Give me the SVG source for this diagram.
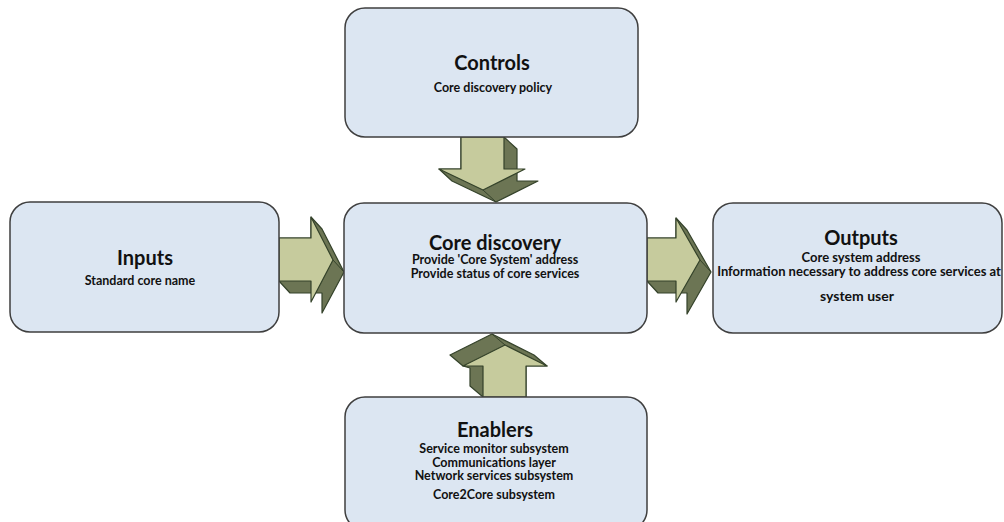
<svg xmlns="http://www.w3.org/2000/svg" width="1004" height="522" viewBox="0 0 1004 522">
  <style>
    .box { fill: #dce6f2; stroke: #3f3f3f; stroke-width: 1.5; }
    .face { fill: #c6cb9d; stroke: #34422a; stroke-width: 1.2; stroke-linejoin: round; }
    .side { fill: #6c7554; stroke: #34422a; stroke-width: 1.2; stroke-linejoin: round; }
    .crease { stroke: #34422a; stroke-width: 1; fill: none; }
    text { font-family: Lato, "Liberation Sans", sans-serif; font-weight: bold; fill: #111; text-anchor: middle; }
    .title { font-size: 20px; }
    .sub { font-size: 12.5px; }
    .sub-lg { font-size: 13px; }
  </style>
  <rect width="1004" height="522" fill="#ffffff"/>

  <!-- block arrows (3D), drawn under the boxes -->
  <g id="connectors">
    <!-- Controls -> Core discovery -->
    <g id="arrow-controls">
      <polygon class="side" points="504,137 517,149 517,181 538,181 496,202 452,181 439,169 461,169 461,137"/>
      <line class="crease" x1="483" y1="190" x2="496" y2="202"/>
      <polygon class="face" points="461,137 504,137 504,169 525,169 483,190 439,169 461,169"/>
    </g>
    <!-- Inputs -> Core discovery -->
    <g id="arrow-inputs">
      <polygon class="side" points="311,217 322,229 344,272 322,313 322,293 290,293 279,281 279,238 311,238"/>
      <line class="crease" x1="333" y1="260" x2="344" y2="272"/>
      <polygon class="face" points="279,238 311,238 311,217 333,260 311,302 311,281 279,281"/>
    </g>
    <!-- Core discovery -> Outputs -->
    <g id="arrow-outputs">
      <polygon class="side" points="676,218 687,230 711,272 687,314 687,293 658,293 647,281 647,238 676,238"/>
      <line class="crease" x1="700" y1="260" x2="711" y2="272"/>
      <polygon class="face" points="647,238 676,238 676,218 700,260 676,302 676,281 647,281"/>
    </g>
    <!-- Enablers -> Core discovery -->
    <g id="arrow-enablers">
      <polygon class="side" points="483,397 470,386 470,368 463,366 450,355 492,334 534,355 547,366 526,366 526,397"/>
      <line class="crease" x1="505" y1="345" x2="492" y2="334"/>
      <polygon class="face" points="483,397 483,366 463,366 505,345 547,366 526,366 526,397"/>
    </g>
  </g>

  <g id="controls">
    <rect class="box" x="345" y="8" width="293" height="129" rx="20" ry="20"/>
    <text class="title" x="492" y="70">Controls</text>
    <text class="sub" x="493" y="92">Core discovery policy</text>
  </g>

  <g id="inputs">
    <rect class="box" x="10" y="202" width="269" height="130" rx="20" ry="20"/>
    <text class="title" x="145" y="265">Inputs</text>
    <text class="sub" x="140" y="285">Standard core name</text>
  </g>

  <g id="core-discovery">
    <rect class="box" x="344" y="203" width="303" height="130" rx="20" ry="20"/>
    <text class="title" x="495" y="250">Core discovery</text>
    <text class="sub" x="495" y="264">Provide 'Core System' address</text>
    <text class="sub" x="495" y="278">Provide status of core services</text>
  </g>

  <g id="outputs">
    <rect class="box" x="713" y="203" width="289" height="130" rx="20" ry="20"/>
    <text class="title" x="861" y="245">Outputs</text>
    <text class="sub-lg" x="861" y="262">Core system address</text>
    <text class="sub-lg" x="859" y="276">Information necessary to address core services at</text>
    <text class="sub-lg" x="857" y="301" style="font-size:14px">system user</text>
  </g>

  <g id="enablers">
    <rect class="box" x="345" y="397" width="302" height="133" rx="20" ry="20"/>
    <text class="title" x="495" y="437">Enablers</text>
    <text class="sub" x="494" y="453">Service monitor subsystem</text>
    <text class="sub" x="494" y="467">Communications layer</text>
    <text class="sub" x="494" y="480">Network services subsystem</text>
    <text class="sub" x="494" y="499">Core2Core subsystem</text>
  </g>
</svg>
